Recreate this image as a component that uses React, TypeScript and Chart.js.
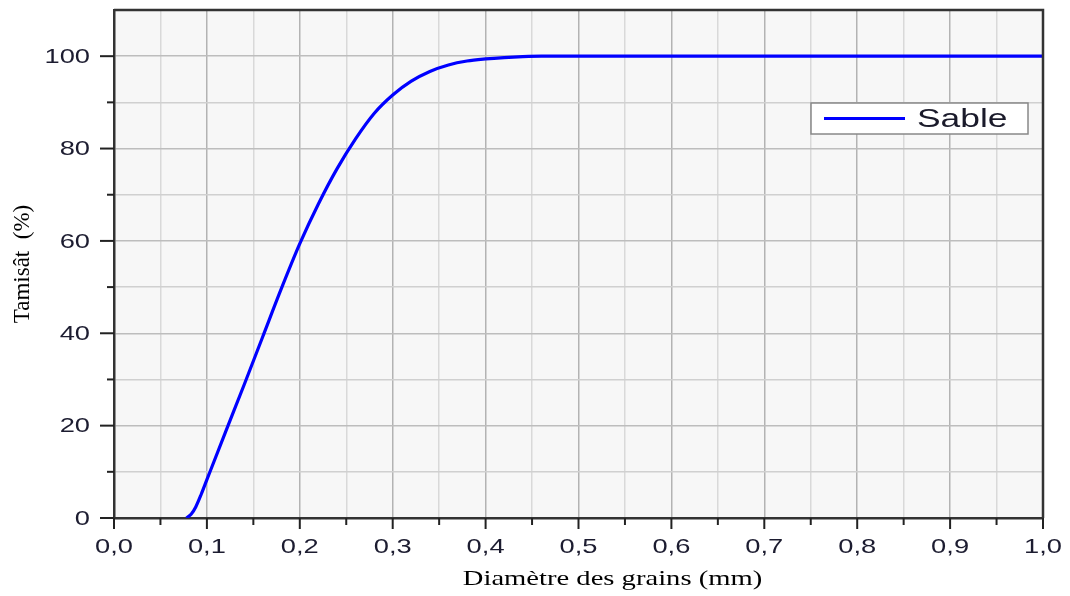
import { useEffect, useRef } from 'react';
import { Chart, registerables } from 'chart.js';

Chart.register(...registerables);

// ---- Data ----
const seriesLabel = 'Sable';
const diameters = [0.078, 0.083, 0.088, 0.094, 0.1, 0.12, 0.14, 0.16, 0.18, 0.2, 0.22, 0.24, 0.26, 0.28, 0.3, 0.32, 0.34, 0.36, 0.38, 0.4, 0.42, 0.44, 0.46, 0.6, 0.8, 1.0];
const passing = [0, 0.8, 2.4, 5.2, 8.3, 18.6, 28.8, 39.2, 49.6, 59.4, 68.0, 75.6, 82.1, 87.6, 91.6, 94.6, 96.7, 98.1, 98.95, 99.4, 99.7, 99.9, 100, 100, 100, 100];
const xTickValues = [0, 0.1, 0.2, 0.3, 0.4, 0.5, 0.6, 0.7, 0.8, 0.9, 1.0];
const yTickValues = [0, 20, 40, 60, 80, 100];
const xTitle = 'Diamètre des grains (mm)';
const yTitle = 'Tamisât  (%)';

const isMajorX = (v: number) => Math.round(v * 100) % 10 === 0;
const isMajorY = (v: number) => Math.round(v) % 20 === 0;
const fmtX = (v: number) => v.toFixed(1).replace('.', ',');

const STRETCH = 1.3;

const framePlugin = {
  id: 'frameAndTicks',
  beforeDraw(chart: any) {
    const { ctx, chartArea: a } = chart;
    ctx.save();
    ctx.fillStyle = '#f7f7f7';
    ctx.fillRect(a.left, a.top, a.width, a.height);
    ctx.restore();
  },
  afterDraw(chart: any) {
    const { ctx, chartArea: a } = chart;
    const xs = chart.scales.x;
    const ys = chart.scales.y;
    ctx.save();
    ctx.strokeStyle = '#333';
    ctx.lineWidth = 2.5;
    // frame top & right
    ctx.beginPath();
    ctx.moveTo(a.left, a.top);
    ctx.lineTo(a.right, a.top);
    ctx.lineTo(a.right, a.bottom);
    ctx.stroke();
    // tick marks
    ctx.lineWidth = 2;
    ctx.strokeStyle = '#222';
    xs.ticks.forEach((t: any) => {
      const px = xs.getPixelForValue(t.value);
      const len = isMajorX(t.value) ? 11 : 7;
      ctx.beginPath();
      ctx.moveTo(px, a.bottom);
      ctx.lineTo(px, a.bottom + len);
      ctx.stroke();
    });
    ys.ticks.forEach((t: any) => {
      if (t.value > 100.5) return;
      const py = ys.getPixelForValue(t.value);
      const len = isMajorY(t.value) ? 14 : 7;
      ctx.beginPath();
      ctx.moveTo(a.left, py);
      ctx.lineTo(a.left - len, py);
      ctx.stroke();
    });
    // tick labels
    ctx.fillStyle = '#1c1c30';
    ctx.font = '21px "Liberation Sans", Arial, sans-serif';
    ctx.textBaseline = 'middle';
    xTickValues.forEach((v) => {
      const px = xs.getPixelForValue(v);
      ctx.save();
      ctx.translate(px, a.bottom + 29);
      ctx.scale(STRETCH, 1);
      ctx.textAlign = 'center';
      ctx.fillText(fmtX(v), 0, 0);
      ctx.restore();
    });
    yTickValues.forEach((v) => {
      const py = ys.getPixelForValue(v);
      ctx.save();
      ctx.translate(a.left - 24, py + 1);
      ctx.scale(STRETCH, 1);
      ctx.textAlign = 'right';
      ctx.fillText(String(v), 0, 0);
      ctx.restore();
    });
    // x axis title
    ctx.save();
    ctx.fillStyle = '#000';
    ctx.font = '22px "Liberation Serif", "Times New Roman", serif';
    ctx.textAlign = 'center';
    ctx.textBaseline = 'middle';
    ctx.translate((a.left + a.right) / 2 + 34, a.bottom + 61);
    ctx.scale(STRETCH, 1);
    ctx.fillText(xTitle, 0, 0);
    ctx.restore();
    // legend box
    const bx = a.right - 232;
    const by = a.top + 93;
    const bw = 217;
    const bh = 31;
    ctx.fillStyle = '#ffffff';
    ctx.fillRect(bx, by, bw, bh);
    ctx.strokeStyle = '#888';
    ctx.lineWidth = 1.5;
    ctx.strokeRect(bx, by, bw, bh);
    ctx.strokeStyle = '#0000ff';
    ctx.lineWidth = 3;
    ctx.beginPath();
    ctx.moveTo(bx + 13, by + bh / 2);
    ctx.lineTo(bx + 94, by + bh / 2);
    ctx.stroke();
    ctx.fillStyle = '#1a1a2a';
    ctx.font = '26px "Liberation Sans", Arial, sans-serif';
    ctx.textBaseline = 'middle';
    ctx.textAlign = 'left';
    ctx.translate(bx + 106, by + bh / 2 + 1);
    ctx.scale(1.36, 1);
    ctx.fillText(chart.data.datasets[0].label, 0, 0);
    ctx.restore();
  },
};

export default function App() {
  const ref = useRef<HTMLCanvasElement | null>(null);

  useEffect(() => {
    if (!ref.current) return;
    const chart = new Chart(ref.current, {
      type: 'line',
      data: {
        datasets: [
          {
            label: seriesLabel,
            data: diameters.map((d, i) => ({ x: d, y: passing[i] })),
            borderColor: '#0000ff',
            backgroundColor: '#0000ff',
            borderWidth: 3.2,
            pointRadius: 0,
            cubicInterpolationMode: 'monotone',
            fill: false,
          },
        ],
      },
      options: {
        animation: false,
        responsive: false,
        maintainAspectRatio: false,
        layout: { padding: { left: 0, top: 10, right: 27, bottom: 0 } },
        plugins: {
          legend: { display: false },
          tooltip: { enabled: false },
        },
        scales: {
          x: {
            type: 'linear',
            min: 0,
            max: 1,
            afterFit: (s: any) => {
              s.height = 78;
              s.paddingLeft = 0;
              s.paddingRight = 0;
            },
            border: { display: true, color: '#333', width: 2.5 },
            grid: {
              drawTicks: false,
              lineWidth: 1.5,
              color: (c: any) => (isMajorX(c.tick.value) ? '#b3b3b3' : '#d9d9d9'),
            },
            ticks: {
              stepSize: 0.05,
              autoSkip: false,
              maxRotation: 0,
              display: false,
            },
            title: { display: false, text: xTitle },
          },
          y: {
            type: 'linear',
            min: 0,
            max: 110,
            afterFit: (s: any) => {
              s.width = 114;
              s.paddingTop = 0;
              s.paddingBottom = 0;
            },
            border: { display: true, color: '#333', width: 2.5 },
            grid: {
              drawTicks: false,
              lineWidth: 1.5,
              color: (c: any) => (isMajorY(c.tick.value) ? '#bdbdbd' : '#d0d0d0'),
            },
            ticks: {
              stepSize: 10,
              autoSkip: false,
              display: false,
            },
            title: {
              display: true,
              text: yTitle,
              color: '#000',
              font: { family: '"Liberation Serif", serif', size: 23 },
              padding: { top: 9, bottom: 0 },
            },
          },
        },
      },
      plugins: [framePlugin],
    } as any);
    return () => chart.destroy();
  }, []);

  return (
    <div style={{ position: 'fixed', left: 0, top: 0, width: 1070, height: 596, background: '#fff' }}>
      <canvas ref={ref} width={1070} height={596} style={{ width: 1070, height: 596, display: 'block' }} />
    </div>
  );
}
